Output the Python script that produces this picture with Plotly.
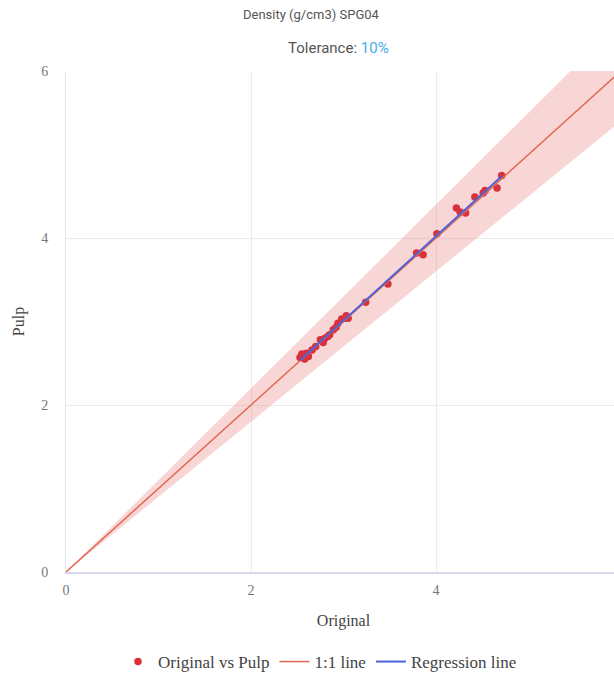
import numpy as np
import plotly.graph_objects as go

original = [2.53, 2.55, 2.58, 2.60, 2.62, 2.66, 2.70, 2.75, 2.78, 2.80, 2.83, 2.85,
            2.89, 2.92, 2.94, 2.98, 3.02, 3.05, 3.03, 3.24, 3.48, 3.79, 3.86, 4.01,
            4.22, 4.26, 4.32, 4.42, 4.51, 4.53, 4.66, 4.71]
pulp = [2.57, 2.61, 2.55, 2.62, 2.58, 2.66, 2.70, 2.78, 2.75, 2.80, 2.82, 2.84,
        2.90, 2.93, 2.98, 3.03, 3.04, 3.04, 3.07, 3.23, 3.45, 3.82, 3.80, 4.05,
        4.36, 4.31, 4.30, 4.49, 4.54, 4.57, 4.60, 4.75]
tolerance = 0.10
ref_x = [0, 7]
x_ticks = [0, 2, 4, 6]
y_ticks = [0, 2, 4, 6]

serif = "Liberation Serif"
sans = "Roboto"

ox = np.array(original)
oy = np.array(pulp)
slope, intercept = np.polyfit(ox, oy, 1)
reg_x = np.array([ox.min(), ox.max()])
reg_y = slope * reg_x + intercept

rx = np.array(ref_x, dtype=float)

fig = go.Figure()
fig.add_trace(go.Scatter(x=rx, y=rx * (1 - tolerance), mode="lines",
                         line=dict(width=0), showlegend=False, hoverinfo="skip"))
fig.add_trace(go.Scatter(x=rx, y=rx * (1 + tolerance), mode="lines",
                         line=dict(width=0), fill="tonexty",
                         fillcolor="rgba(236,120,120,0.30)", showlegend=False,
                         hoverinfo="skip"))
fig.add_trace(go.Scatter(x=original, y=pulp, mode="markers", name="Original vs Pulp",
                         marker=dict(color="#d9303c", size=7.5)))
fig.add_trace(go.Scatter(x=rx, y=rx, mode="lines", name="1:1 line",
                         line=dict(color="#e2694e", width=1.5)))
fig.add_trace(go.Scatter(x=reg_x, y=reg_y, mode="lines", name="Regression line",
                         line=dict(color="#4f63d8", width=2)))

W = 680
H = 675
L, R = 66, W - 621
T, B = 71, H - 572
PH = 572 - 71

def px(p):
    return (p - L) / (W - L - R)

fig.update_layout(
    width=W, height=H,
    margin=dict(l=L, r=R, t=T, b=B, autoexpand=False),
    paper_bgcolor="white", plot_bgcolor="white",
    font=dict(family=serif, color="#555555", size=12),
    showlegend=True,
    legend=dict(orientation="h", traceorder="normal", x=px(320), xanchor="center",
                y=(572 - 662) / PH, yanchor="middle",
                font=dict(family=serif, size=17, color="#444444")),
    annotations=[
        dict(text="Density (g/cm3) SPG04", xref="paper", yref="paper",
             x=px(311), y=1 + (71 - 15) / PH, xanchor="center", yanchor="middle",
             showarrow=False, font=dict(family=sans, size=13, color="#555555")),
        dict(text="Tolerance: <span style='color:#45aee8'>10%</span>", xref="paper",
             yref="paper", x=px(338), y=1 + (71 - 48) / PH, xanchor="center",
             yanchor="middle", showarrow=False,
             font=dict(family=sans, size=15, color="#555555")),
    ],
)
fig.update_xaxes(range=[0, 6], tickvals=x_ticks, showgrid=True, gridcolor="#ebebeb",
                 zeroline=False, showline=True, linecolor="#d8d8ea", linewidth=2,
                 ticks="", ticklabelstandoff=4,
                 tickfont=dict(family=serif, size=14, color="#777777"),
                 title=dict(text="Original", font=dict(family=serif, size=16, color="#444444"),
                            standoff=18))
fig.update_yaxes(range=[0, 6], tickvals=y_ticks, showgrid=True, gridcolor="#ebebeb",
                 zeroline=False, showline=True, linecolor="#e6e6e6", linewidth=1,
                 ticks="", ticklabelstandoff=14,
                 tickfont=dict(family=serif, size=14, color="#777777"),
                 title=dict(text="Pulp", font=dict(family=serif, size=16, color="#444444"),
                            standoff=12))

fig.write_html("out.html")
